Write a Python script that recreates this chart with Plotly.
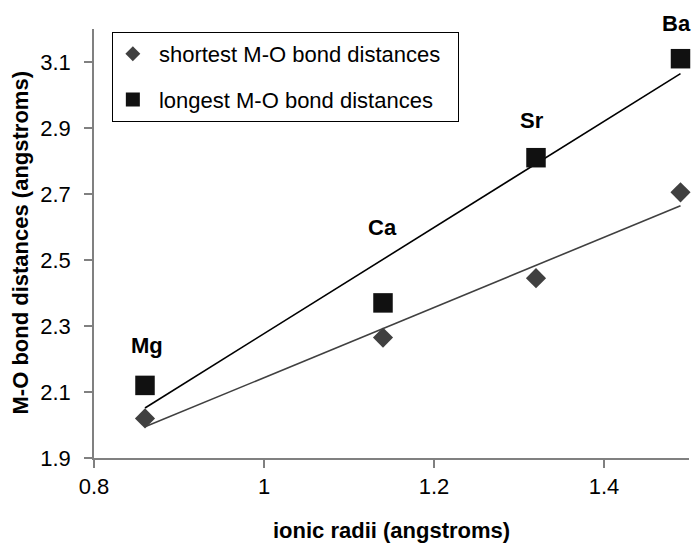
import numpy as np
import plotly.graph_objects as go

elements = ["Mg", "Ca", "Sr", "Ba"]
ionic_radii = [0.86, 1.14, 1.32, 1.49]
shortest = [2.02, 2.265, 2.445, 2.705]
longest = [2.12, 2.37, 2.81, 3.11]
label_y = [2.24, 2.597, 2.924, 3.218]
series_names = ["shortest M-O bond distances", "longest M-O bond distances"]

x_ticks = [0.8, 1, 1.2, 1.4]
x_ticktext = ["0.8", "1", "1.2", "1.4"]
y_ticks = [1.9, 2.1, 2.3, 2.5, 2.7, 2.9, 3.1]
y_ticktext = ["1.9", "2.1", "2.3", "2.5", "2.7", "2.9", "3.1"]
x_range = [0.8, 1.5]
y_range = [1.9, 3.2]

FONT = "Liberation Sans, Arial, sans-serif"
GRAY = "#404040"
BLACK = "#111111"
FS = 22
LABEL_XSHIFT = {"Mg": 2, "Ca": -1, "Sr": -4, "Ba": -4}
NB = "\u00a0"

def trend(x, y):
    m, b = np.polyfit(x, y, 1)
    xs = np.array([min(x), max(x)])
    return xs, m * xs + b

fig = go.Figure()

tx, ty = trend(ionic_radii, longest)
fig.add_trace(go.Scatter(x=tx, y=ty, mode="lines", line=dict(color="black", width=1.6),
                         showlegend=False, hoverinfo="skip"))
tx2, ty2 = trend(ionic_radii, shortest)
fig.add_trace(go.Scatter(x=tx2, y=ty2, mode="lines", line=dict(color=GRAY, width=1.6),
                         showlegend=False, hoverinfo="skip"))

fig.add_trace(go.Scatter(x=ionic_radii, y=shortest, mode="markers",
                         marker=dict(symbol="diamond", size=15.5, color=GRAY),
                         showlegend=False, cliponaxis=False))
fig.add_trace(go.Scatter(x=ionic_radii, y=longest, mode="markers",
                         marker=dict(symbol="square", size=19.5, color=BLACK),
                         showlegend=False, cliponaxis=False))

# legend-only entries
fig.add_trace(go.Scatter(x=[None], y=[None], mode="markers", name=NB + series_names[0] + NB * 2,
                         marker=dict(symbol="diamond", size=11.5, color=GRAY), legendgroup="a"))
fig.add_trace(go.Scatter(x=[None], y=[None], mode="markers", name=NB + series_names[1],
                         marker=dict(symbol="square", size=14, color=BLACK), legendgroup="b"))

# element labels (x in data units, y converted to paper so the top one is not hidden)
for el, xv, yv in zip(elements, ionic_radii, label_y):
    fig.add_annotation(xref="x", yref="paper", x=xv, y=(yv - y_range[0]) / (y_range[1] - y_range[0]),
                       xshift=LABEL_XSHIFT[el],
                       text=f"<b>{el}</b>", showarrow=False, xanchor="center", yanchor="middle",
                       font=dict(family=FONT, size=FS, color="black"))

axis_common = dict(showgrid=False, zeroline=False, showline=True, linecolor="#808080",
                   linewidth=1.5, ticks="outside", ticklen=8, tickcolor="#808080", tickwidth=1.5,
                   tickfont=dict(family=FONT, size=FS, color="black"), automargin=False)

fig.update_xaxes(range=x_range, tickvals=x_ticks, ticktext=x_ticktext, **axis_common)
fig.update_yaxes(range=y_range, tickvals=y_ticks, ticktext=y_ticktext, ticklabelstandoff=9,
                 **axis_common)

fig.add_annotation(xref="paper", yref="paper", x=0, y=0.5, xshift=-74, textangle=-90,
                   text="<b>M-O bond distances (angstroms)</b>", showarrow=False,
                   xanchor="center", yanchor="middle", font=dict(family=FONT, size=FS, color="black"))
fig.add_annotation(xref="paper", yref="paper", x=0.5, y=0, yshift=-72,
                   text="<b>ionic radii (angstroms)</b>", showarrow=False,
                   xanchor="center", yanchor="middle", font=dict(family=FONT, size=FS, color="black"))

fig.update_layout(
    width=692, height=543,
    margin=dict(l=94, r=3, t=29, b=85),
    paper_bgcolor="white", plot_bgcolor="white",
    font=dict(family=FONT, size=FS, color="black"),
    legend=dict(x=0.03, y=0.993, xanchor="left", yanchor="top", bordercolor="black", borderwidth=1,
                bgcolor="white", font=dict(family=FONT, size=FS, color="black"), tracegroupgap=14),
)

fig.write_html("out.html", config={"displayModeBar": False},
               post_script="document.body.style.margin='0';document.body.style.overflow='hidden';")
